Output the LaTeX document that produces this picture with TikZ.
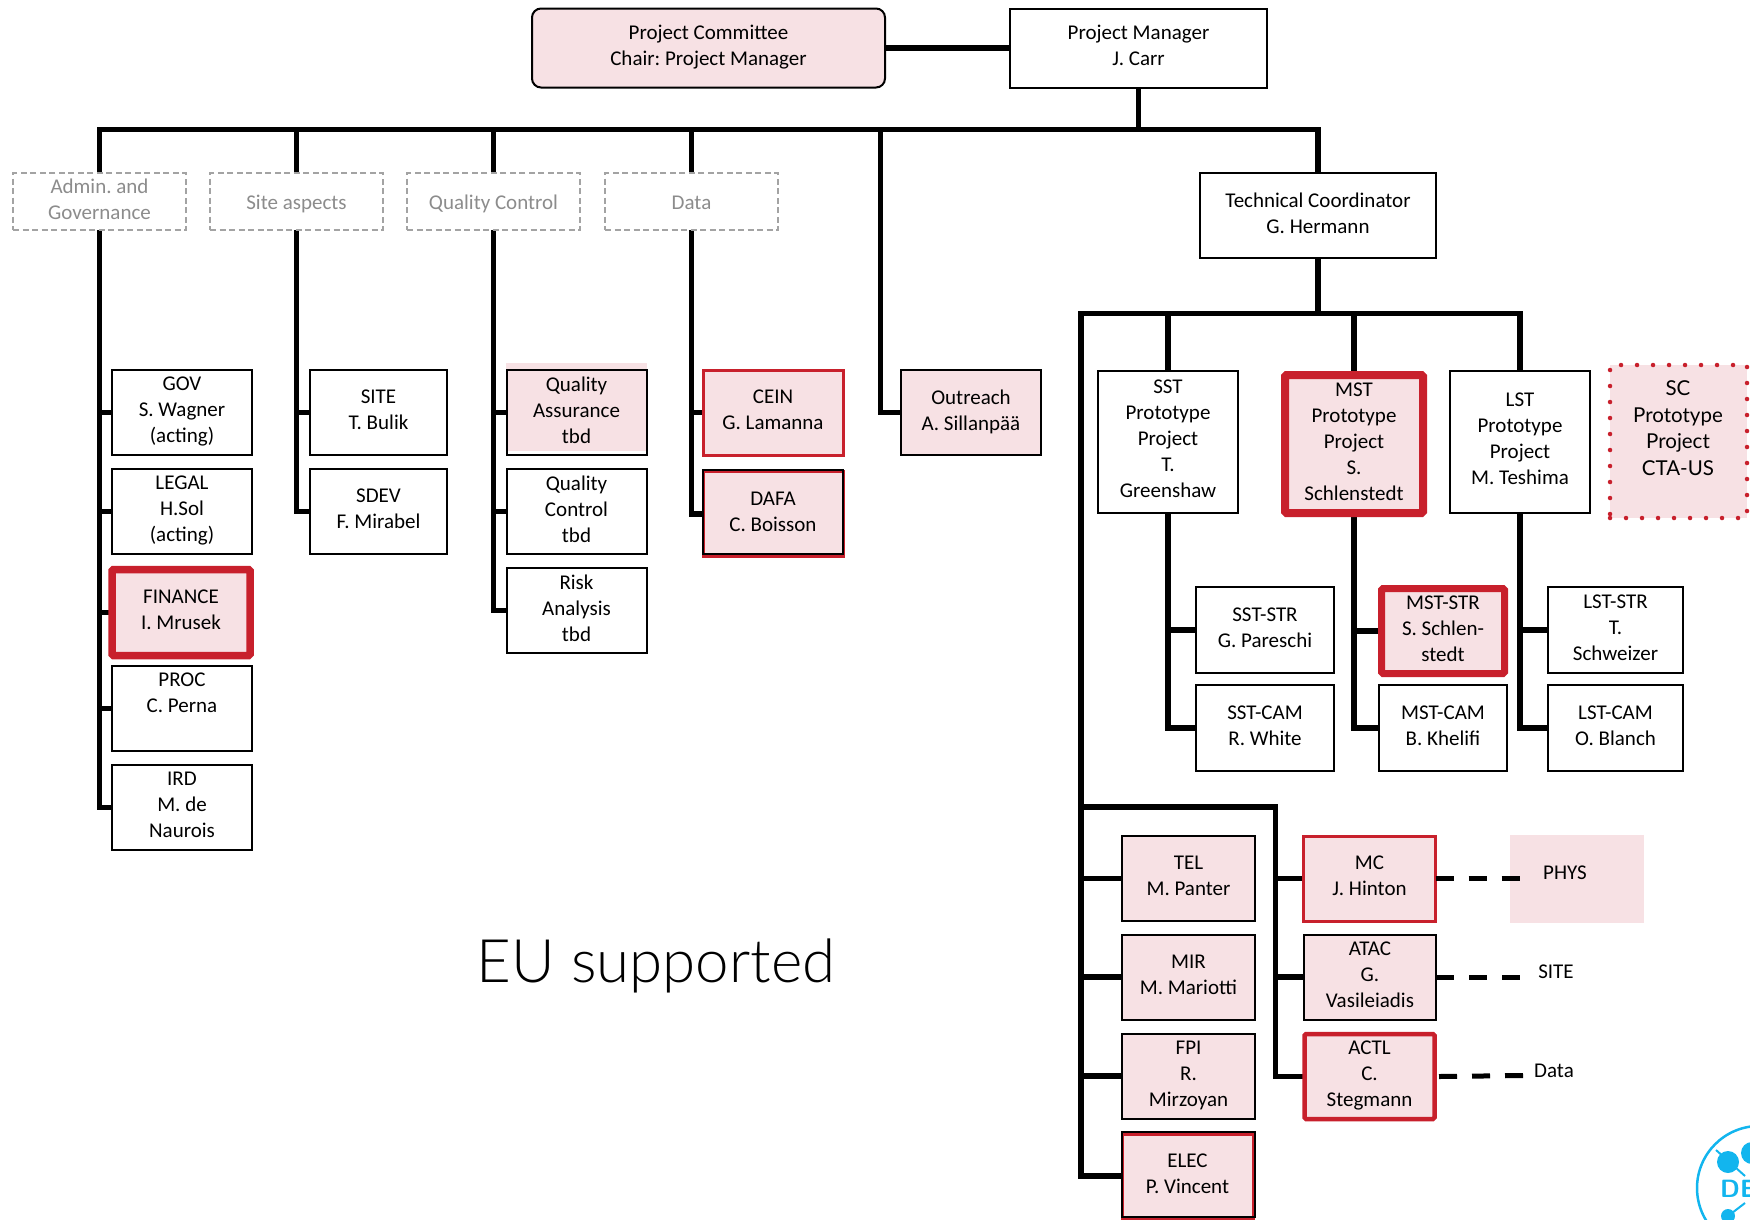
\documentclass[tikz,border=0pt]{standalone}
\usepackage{fontspec}
\setmainfont{Carlito}
\newfontfamily\gillfont{Lato Light}
\newfontfamily\gillmid{Lato}
\frenchspacing
\definecolor{ctapink}{HTML}{F7E1E4}
\definecolor{ctared}{HTML}{C8202C}
\definecolor{ctagray}{HTML}{8C8C8C}
\definecolor{logoblue}{HTML}{12B5EE}
\usetikzlibrary{backgrounds}

\begin{document}
\begin{tikzpicture}[
        x=1pt, y=-1pt,
        box/.style={draw=black, line width=2pt, fill=white, align=center, inner sep=0pt, outer sep=0pt,
                    font=\fontsize{21}{26}\selectfont, lift},
        lift/.style={execute at begin node={\rule{0pt}{20pt}}, execute at end node={\rule[-5pt]{0pt}{5pt}}},
        nolift/.style={execute at begin node={}, execute at end node={}},
        unit/.style={box, minimum width=140pt, minimum height=85pt},
        eubox/.style={unit, fill=ctapink},
        redbox/.style={eubox, draw=ctared, line width=3pt},
        leadbox/.style={eubox, draw=ctared, line width=7.5pt, rounded corners=1.5pt, nolift},
        outline/.style={unit, fill=none, nolift},
        ghost/.style={box, draw=ctagray!80, line width=1.8pt, dash pattern=on 6pt off 3.5pt, text=ctagray, minimum width=173pt, minimum height=57pt},
        trunk/.style={line width=5.5pt, line cap=rect, line join=miter},
        link/.style={line width=5pt, dash pattern=on 18pt off 15pt},
        lbl/.style={align=center, inner sep=0pt, font=\fontsize{21}{26}\selectfont},
    ]
    \useasboundingbox (0,0) rectangle (1750,1219);

    % Top row
    \node[box, fill=ctapink, rounded corners=9pt, minimum width=353pt, minimum height=79pt] (committee) at (708.5,48)
        {Project Committee\\Chair: Project Manager};
    \node[box, minimum width=257pt, minimum height=79pt] (pm) at (1138.5,48) {Project Manager\\J. Carr};

    % Grey headings
    \node[ghost] (admin) at (99.5,201.5) {Admin. and\\Governance};
    \node[ghost] (siteasp) at (296.5,201.5) {Site aspects};
    \node[ghost] (qctl) at (493.5,201.5) {Quality Control};
    \node[ghost] (datah) at (691.5,201.5) {Data};
    \node[box, minimum width=236pt, minimum height=85pt] (tc) at (1318,215.5) {Technical Coordinator\\G. Hermann};

    % Admin column
    \node[unit] (gov) at (182,412.5) {GOV\\S. Wagner\\(acting)};
    \node[unit] (legal) at (182,511.5) {LEGAL\\H.Sol\\(acting)};
    \node[leadbox, minimum width=138pt, minimum height=86pt] (finance) at (181,612.5) {FINANCE\\I. Mrusek};
    \node[unit] (proc) at (182,708.5) {PROC\\C. Perna\\\mbox{}};
    \node[unit] (ird) at (182,807.5) {IRD\\M. de\\Naurois};

    % Site column
    \node[unit, minimum width=137pt] (sitebox) at (378.5,412.5) {SITE\\T. Bulik};
    \node[unit, minimum width=137pt] (sdev) at (378.5,511.5) {SDEV\\F. Mirabel};

    % Quality column
    \node[rectangle, fill=ctapink, minimum width=141pt, minimum height=88pt, inner sep=0pt, outer sep=0pt] (qatint) at (576,407) {};
    \node[unit, fill=none] (qa) at (576.5,412.5) {Quality\\Assurance\\tbd};
    \node[unit] (qc) at (576.5,511.5) {Quality\\Control\\tbd};
    \node[unit] (risk) at (576.5,610.5) {Risk\\Analysis\\tbd};

    % Data column and outreach
    \node[redbox] (cein) at (773,412.5) {CEIN\\G. Lamanna};
    \node[redbox] (dafa) at (773,514) {DAFA\\C. Boisson};
    \node[outline, minimum height=84pt] (dafaline) at (773,512) {};
    \node[eubox] (outreach) at (971,412.5) {Outreach\\A. Sillanp\"a\"a};

    % Prototype projects
    \node[unit, minimum height=142pt] (sst) at (1168,441.5) {SST\\Prototype\\Project\\T.\\Greenshaw};
    \node[leadbox, line width=8pt, minimum width=138pt, minimum height=138pt] (mst) at (1354,444) {MST\\Prototype\\Project\\S.\\Schlenstedt};
    \node[unit, minimum height=142pt] (lst) at (1520,441.5) {LST\\Prototype\\Project\\M. Teshima};
    \node[eubox, draw=ctared, line width=4.5pt, line cap=round, dash pattern=on 0pt off 16pt,
          minimum width=137pt, minimum height=153pt, nolift] (scbox) at (1678.5,441.5) {};
    \node[lbl, font=\fontsize{20.5}{26.5}\selectfont\gillmid] (sc) at (1678,428) {SC\\Prototype\\Project\\CTA-US};

    % Telescope sub-systems
    \node[unit, minimum width=138pt, minimum height=86pt] (sststr) at (1265,630) {SST-STR\\G. Pareschi};
    \node[unit, minimum width=138pt, minimum height=86pt] (sstcam) at (1265,728) {SST-CAM\\R. White};
    \node[leadbox, line width=7pt, minimum width=123pt, minimum height=85pt] (mststr) at (1443,631) {MST-STR\\S. Schlen-\\stedt};
    \node[unit, minimum width=128pt, minimum height=86pt] (mstcam) at (1443,728) {MST-CAM\\B. Khelifi};
    \node[unit, minimum width=135pt, minimum height=86pt] (lststr) at (1615.5,630) {LST-STR\\T.\\Schweizer};
    \node[unit, minimum width=135pt, minimum height=86pt] (lstcam) at (1615.5,728) {LST-CAM\\O. Blanch};

    % Lower block
    \node[eubox, minimum width=133pt] (tel) at (1188.5,878.5) {TEL\\M. Panter};
    \node[eubox, minimum width=133pt] (mir) at (1188.5,977) {MIR\\M. Mariotti};
    \node[eubox, minimum width=133pt] (fpi) at (1188.5,1076) {FPI\\R.\\Mirzoyan};
    \node[redbox, minimum width=131pt, minimum height=84pt] (elec) at (1187.5,1176) {ELEC\\P. Vincent};
    \node[outline, minimum width=133pt] (elecline) at (1188.5,1174.5) {};
    \node[redbox, minimum width=132pt] (mc) at (1369.5,878.5) {MC\\J. Hinton};
    \node[eubox, minimum width=132pt] (atac) at (1370,977) {ATAC\\G.\\Vasileiadis};
    \node[leadbox, line width=4.5pt, minimum width=130pt, minimum height=85pt, lift] (actl) at (1369.5,1076.5) {ACTL\\C.\\Stegmann};

    % Working-group tags
    \node[rectangle, fill=ctapink, minimum width=134pt, minimum height=88pt, inner sep=0pt] (physbox) at (1577,879) {};
    \node[lbl] (phys) at (1565,873) {PHYS};
    \node[lbl] (sitetag) at (1556,972) {SITE};
    \node[lbl] (datatag) at (1554,1071) {Data};
    \coordinate (physend) at (1520,878.5);
    \coordinate (siteend) at (1521,977);
    \coordinate (dataend) at (1525,1075.5);

    \node[font=\fontsize{60}{70}\selectfont\gillfont, inner sep=0pt] (eu) at (656,966) {EU supported};

    % Named bends
    \coordinate (busa) at (1138.5,129.5);
    \coordinate (outdrop) at (880.5,129.5);
    \coordinate (busb) at (1318,313.5);
    \coordinate (busbleft) at (1081,313.5);
    \coordinate (lowbus) at (1275.5,807);

    % Connectors
    \begin{scope}[on background layer]
        \draw[trunk] (committee.east) -- (pm.west);
        \draw[trunk] (pm.south) -- (busa);
        \draw[trunk] (admin.north) |- (busa) -| (tc.north);
        \foreach \headname in {siteasp, qctl, datah}
            \draw[trunk] (\headname.north |- busa) -- (\headname.north);
        \draw[trunk] (outdrop) |- (outreach.west);

        \draw[trunk] (admin.south) |- (ird.west);
        \foreach \unitname in {gov, legal, finance, proc}
            \draw[trunk] (admin.south |- \unitname.west) -- (\unitname.west);
        \draw[trunk] (siteasp.south) |- (sdev.west);
        \draw[trunk] (siteasp.south |- sitebox.west) -- (sitebox.west);
        \draw[trunk] (qctl.south) |- (risk.west);
        \foreach \unitname in {qa, qc}
            \draw[trunk] (qctl.south |- \unitname.west) -- (\unitname.west);
        \draw[trunk] (datah.south) |- (dafa.west);
        \draw[trunk] (datah.south |- cein.west) -- (cein.west);

        \draw[trunk] (tc.south) -- (busb);
        \draw[trunk] (elec.west) -| (busbleft) -| (lst.north);
        \foreach \unitname in {sst, mst}
            \draw[trunk] (\unitname.north |- busb) -- (\unitname.north);
        \foreach \parentname/\upper/\lower in {sst/sststr/sstcam, mst/mststr/mstcam, lst/lststr/lstcam} {
            \draw[trunk] (\parentname.south) |- (\lower.west);
            \draw[trunk] (\parentname.south |- \upper.west) -- (\upper.west);
        }

        \draw[trunk] (busbleft |- lowbus) -- (lowbus) |- (actl.west);
        \foreach \unitname in {tel, mir, fpi}
            \draw[trunk] (busbleft |- \unitname.west) -- (\unitname.west);
        \foreach \unitname in {mc, atac}
            \draw[trunk] (lowbus |- \unitname.west) -- (\unitname.west);
    \end{scope}

    \draw[link] (mc.east) -- (physend);
    \draw[link] (atac.east) -- (siteend);
    \draw[link] ([xshift=4.5pt]actl.east) -- (dataend);

    % Logo, cut by the page edge
    \begin{scope}
        \clip (1680,1110) rectangle (1750,1219);
        \draw[logoblue, line width=2.5pt] (1759,1188) circle (62);
        \fill[logoblue] (1728,1162) circle (11);
        \fill[logoblue] (1752,1153) circle (11);
        \fill[logoblue] (1728,1216) circle (7);
        \draw[logoblue, line width=2pt] (1716,1150) -- (1745,1176);
        \draw[logoblue, line width=2pt] (1728,1216) -- (1745,1203);
        \node[text=logoblue, font=\fontsize{25}{25}\selectfont\bfseries\sffamily, anchor=west, inner sep=0pt] (desy) at (1720,1189) {DE};
    \end{scope}
\end{tikzpicture}
\end{document}
